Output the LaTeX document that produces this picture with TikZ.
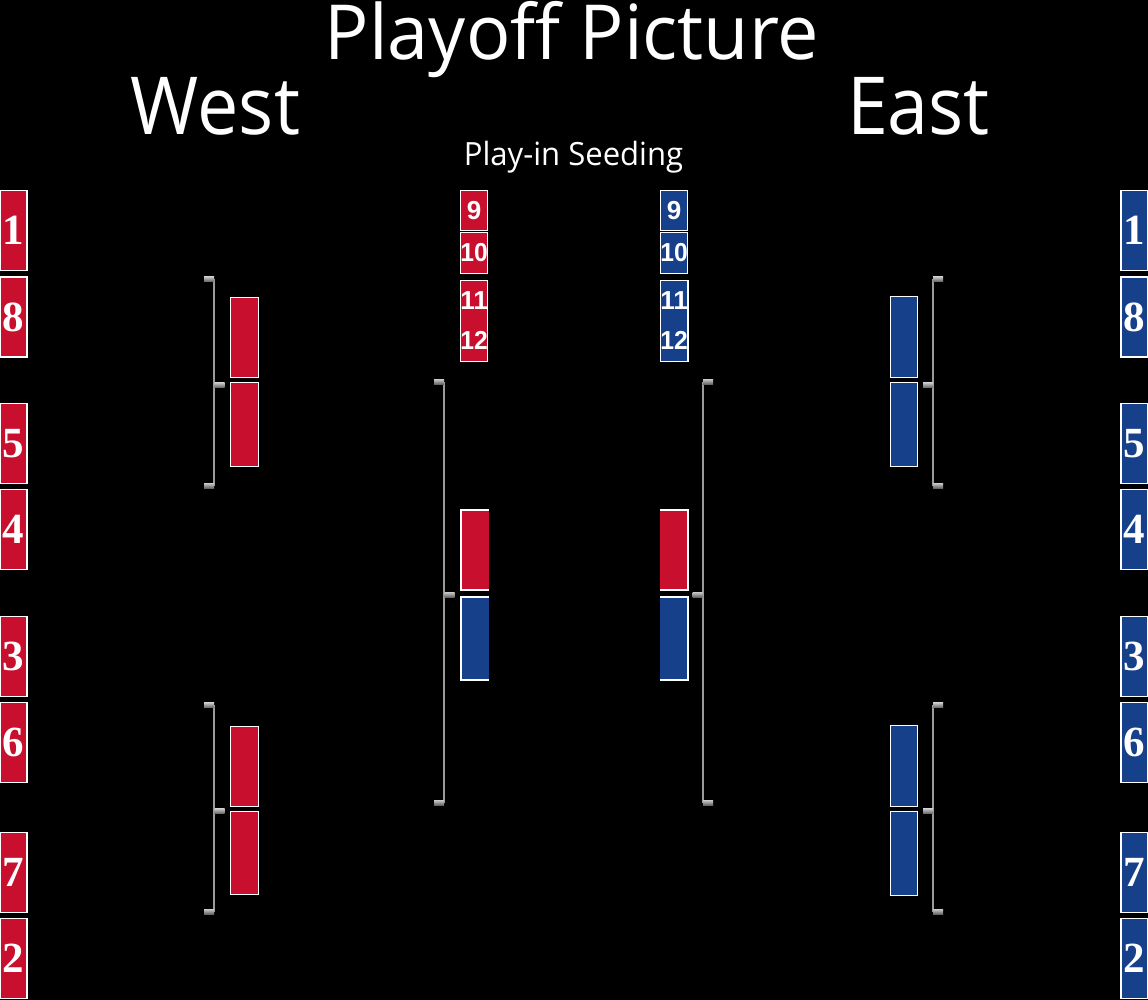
\documentclass[tikz,border=0pt]{standalone}
\usepackage{fontspec}
\setmainfont{Open Sans}
\newfontfamily\seedfont{Liberation Serif}
\newfontfamily\playfont{Liberation Sans}
\definecolor{nbared}{HTML}{C8102E}
\definecolor{nbablue}{HTML}{17408B}
\definecolor{tickgray}{HTML}{B4B4B4}
\definecolor{linegray}{HTML}{9A9A9A}
\begin{document}
\begin{tikzpicture}[x=1pt,y=-1pt,
  seedbox/.style={draw=white, line width=1.5pt, inner sep=0pt, text=white,
    font=\seedfont\bfseries\fontsize{43}{43}\selectfont},
  playbox/.style={draw=white, line width=1.5pt, inner sep=0pt, text=white,
    font=\playfont\bfseries\fontsize{26}{26}\selectfont},
  slotbox/.style={draw=white, line width=1.5pt, inner sep=0pt},
  openbox/.style={inner sep=0pt},
  redfill/.style={fill=nbared},
  bluefill/.style={fill=nbablue},
  tickmark/.style={inner sep=0pt, minimum width=10pt, minimum height=5pt,
    top color=tickgray!70, bottom color=gray!80!black},
  bline/.style={draw=linegray, line width=1.2pt},
  edgeline/.style={draw=white, line width=1.5pt},
  titletext/.style={text=white, inner sep=0pt, anchor=base}
]
\fill[black] (0,0) rectangle (1148,1000);
\useasboundingbox (0,0) rectangle (1148,1000);

% titles
\node[titletext, font=\fontsize{76}{76}\selectfont] (title) at (572,60) {\scalebox{0.97}[1]{Playoff Picture}};
\node[titletext, font=\fontsize{80}{80}\selectfont] (west) at (215.5,135) {\scalebox{0.92}[1]{West}};
\node[titletext, font=\fontsize{80}{80}\selectfont] (east) at (918.5,135) {\scalebox{0.92}[1]{East}};
\node[titletext, font=\fontsize{32}{32}\selectfont] (playin) at (573.5,166) {\scalebox{0.97}[1]{Play-in Seeding}};

% West seeds
\foreach \n/\cy in {1/230.5, 8/317, 5/443.5, 4/529.5, 3/656.5, 6/742.5, 7/872.5, 2/958.5}{
  \node[seedbox, redfill, minimum width=27pt, minimum height=80pt] (w\n) at (13.5,\cy) {\n};
}
% East seeds
\foreach \n/\cy in {1/230.5, 8/317, 5/443.5, 4/529.5, 3/656.5, 6/742.5, 7/872.5, 2/958.5}{
  \node[seedbox, bluefill, minimum width=27pt, minimum height=80pt] (e\n) at (1134.5,\cy) {\n};
}

% West first-round slots
\node[slotbox, redfill, minimum width=28pt, minimum height=80pt] (wa) at (244.5,337.5) {};
\node[slotbox, redfill, minimum width=28pt, minimum height=84pt] (wb) at (244.5,424.5) {};
\node[slotbox, redfill, minimum width=28pt, minimum height=80pt] (wc) at (244.5,766.5) {};
\node[slotbox, redfill, minimum width=28pt, minimum height=83pt] (wd) at (244.5,853) {};
% East first-round slots
\node[slotbox, bluefill, minimum width=27pt, minimum height=81pt] (ea) at (904,337) {};
\node[slotbox, bluefill, minimum width=27pt, minimum height=84pt] (eb) at (904,424.5) {};
\node[slotbox, bluefill, minimum width=27pt, minimum height=81pt] (ec) at (904,766) {};
\node[slotbox, bluefill, minimum width=27pt, minimum height=84pt] (ed) at (904,853.5) {};

% Play-in seeding
\node[playbox, redfill, minimum width=27pt, minimum height=40pt] (w9) at (474,210.5) {9};
\node[playbox, redfill, minimum width=27pt, minimum height=41pt] (w10) at (474,253) {\scalebox{0.95}[1]{10}};
\node[playbox, redfill, minimum width=27pt, minimum height=81pt, align=center,
  font=\playfont\bfseries\fontsize{26}{40}\selectfont] (w1112) at (474,321) {11\\\scalebox{0.95}[1]{12}};
\node[playbox, bluefill, minimum width=27pt, minimum height=40pt] (e9) at (674,210.5) {9};
\node[playbox, bluefill, minimum width=27pt, minimum height=41pt] (e10) at (674,253) {\scalebox{0.95}[1]{10}};
\node[playbox, bluefill, minimum width=27pt, minimum height=81pt, align=center,
  font=\playfont\bfseries\fontsize{26}{40}\selectfont] (e1112) at (674,321) {11\\\scalebox{0.95}[1]{12}};

% Center slots (border on three sides)
\node[openbox, redfill, minimum width=28pt, minimum height=80pt] (cl1) at (475,550) {};
\node[openbox, bluefill, minimum width=28pt, minimum height=83pt] (cl2) at (475,638.5) {};
\node[openbox, redfill, minimum width=28pt, minimum height=80pt] (cr1) at (674,550) {};
\node[openbox, bluefill, minimum width=28pt, minimum height=83pt] (cr2) at (674,638.5) {};
\foreach \b in {cl1,cl2}{
  \draw[edgeline] (\b.north east) -- (\b.north west) -- (\b.south west) -- (\b.south east);
}
\foreach \b in {cr1,cr2}{
  \draw[edgeline] (\b.north west) -- (\b.north east) -- (\b.south east) -- (\b.south west);
}

% Brackets: lines
\coordinate (lu1) at (214,279); \coordinate (lu2) at (214,485.5);
\coordinate (ll1) at (214,705); \coordinate (ll2) at (214,911.5);
\coordinate (cl1t) at (444,381.5); \coordinate (cl1b) at (444,802.5);
\coordinate (cr1t) at (703,381.5); \coordinate (cr1b) at (703,802.5);
\coordinate (ru1) at (933,279); \coordinate (ru2) at (933,485.5);
\coordinate (rl1) at (933,705); \coordinate (rl2) at (933,911.5);
\draw[bline] (lu1) -- (lu2);
\draw[bline] (ll1) -- (ll2);
\draw[bline] (cl1t) -- (cl1b);
\draw[bline] (cr1t) -- (cr1b);
\draw[bline] (ru1) -- (ru2);
\draw[bline] (rl1) -- (rl2);

% Bracket ticks
\node[tickmark] (tlu1) at (209,279) {};
\node[tickmark] (tlu2) at (219.5,385) {};
\node[tickmark] (tlu3) at (209,485.5) {};
\node[tickmark] (tll1) at (209,705) {};
\node[tickmark] (tll2) at (219.5,811) {};
\node[tickmark] (tll3) at (209,911.5) {};
\node[tickmark] (tcl1) at (439,381.5) {};
\node[tickmark] (tcl2) at (449.5,594.5) {};
\node[tickmark] (tcl3) at (439,802.5) {};
\node[tickmark] (tcr1) at (708,381.5) {};
\node[tickmark] (tcr2) at (697.5,594.5) {};
\node[tickmark] (tcr3) at (708,802.5) {};
\node[tickmark] (tru1) at (938,279) {};
\node[tickmark] (tru2) at (928,385) {};
\node[tickmark] (tru3) at (938,485.5) {};
\node[tickmark] (trl1) at (938,705) {};
\node[tickmark] (trl2) at (928,811) {};
\node[tickmark] (trl3) at (938,911.5) {};
\end{tikzpicture}
\end{document}
